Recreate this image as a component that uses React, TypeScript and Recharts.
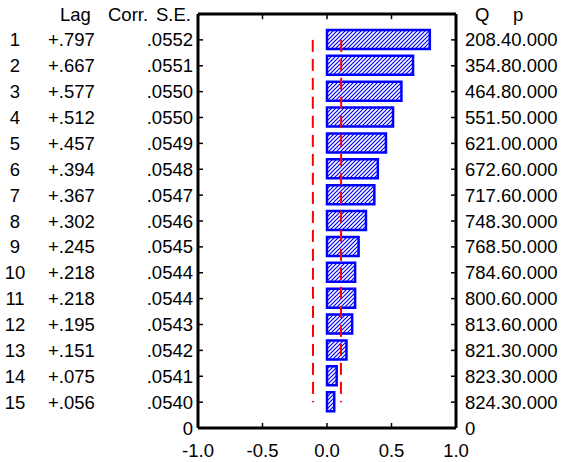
import {
  ComposedChart,
  Bar,
  Line,
  XAxis,
  YAxis,
  ReferenceLine,
} from "recharts";

// autocorrelation table
const lags = [1, 2, 3, 4, 5, 6, 7, 8, 9, 10, 11, 12, 13, 14, 15];
const corrs = [
  0.797, 0.667, 0.577, 0.512, 0.457, 0.394, 0.367, 0.302, 0.245, 0.218, 0.218,
  0.195, 0.151, 0.075, 0.056,
];
const stdErrs = [
  0.0552, 0.0551, 0.055, 0.055, 0.0549, 0.0548, 0.0547, 0.0546, 0.0545, 0.0544,
  0.0544, 0.0543, 0.0542, 0.0541, 0.054,
];
const qStats = [
  208.4, 354.8, 464.8, 551.5, 621.0, 672.6, 717.6, 748.3, 768.5, 784.6, 800.6,
  813.6, 821.3, 823.3, 824.3,
];
const pValues = [0, 0, 0, 0, 0, 0, 0, 0, 0, 0, 0, 0, 0, 0, 0];
const xTicks = [-1, -0.5, 0, 0.5, 1];
const rowTicks = [1, 2, 3, 4, 5, 6, 7, 8, 9, 10, 11, 12, 13, 14, 15, 16];

const rows = lags.map((lag, i) => ({
  lag,
  corr: corrs[i],
  se: stdErrs[i],
  upper: 2 * stdErrs[i],
  lower: -2 * stdErrs[i],
  q: qStats[i],
  p: pValues[i],
}));

const FONT = "'Liberation Sans', Arial, sans-serif";
const FS = 18.5;
const BLUE = "#0000ff";

const noLead = (v: number, d: number) => v.toFixed(d).replace(/^0/, "");

const LeftTick = (props: any) => {
  const { x, y, payload } = props;
  const row = rows.find((r) => r.lag === payload.value);
  const base = y + 6.5;
  if (!row) {
    return (
      <text x={x - 5} y={base} textAnchor="end" fontSize={FS} fill="#000">
        0
      </text>
    );
  }
  return (
    <g fontSize={FS} fill="#000">
      <path d={`M${x},${y}h5`} stroke="#000" strokeWidth={1.5} />
      <text x={x - 183} y={base} textAnchor="middle">
        {row.lag}
      </text>
      <text x={x - 150} y={base}>
        {(row.corr >= 0 ? "+" : "-") + noLead(Math.abs(row.corr), 3)}
      </text>
      <text x={x - 5} y={base} textAnchor="end">
        {noLead(row.se, 4)}
      </text>
    </g>
  );
};

const RightTick = (props: any) => {
  const { x, y, payload } = props;
  const row = rows.find((r) => r.lag === payload.value);
  const base = y + 6.5;
  return (
    <g fontSize={FS} fill="#000">
      {row && <path d={`M${x},${y}h-5`} stroke="#000" strokeWidth={1.5} />}
      <text x={x + 9} y={base}>
        {row ? `${row.q.toFixed(1)}${row.p.toFixed(3)}` : "0"}
      </text>
    </g>
  );
};

const BottomTick = (props: any) => {
  const { x, y, payload } = props;
  const edge = payload.value === -1 || payload.value === 1;
  return (
    <g fontSize={FS} fill="#000">
      {!edge && <path d={`M${x},${y}v-5`} stroke="#000" strokeWidth={1.5} />}
      <text x={x} y={y + 29} textAnchor="middle">
        {payload.value.toFixed(1)}
      </text>
    </g>
  );
};

const innerTicks = xTicks.filter((t) => t !== -1 && t !== 1);

export default function App() {
  return (
    <div
      style={{
        position: "absolute",
        left: 0,
        top: 0,
        width: 562,
        height: 462,
        background: "#fff",
        fontFamily: FONT,
      }}
    >
      <svg
        width={562}
        height={462}
        style={{ position: "absolute", left: 0, top: 0, pointerEvents: "none" }}
      >
        <defs>
          <pattern
            id="acfHatch"
            patternUnits="userSpaceOnUse"
            width={4}
            height={4}
          >
            <rect width={4} height={4} fill="#fff" />
            <path
              d="M-1,1 l2,-2 M0,4 l4,-4 M3,5 l2,-2"
              stroke={BLUE}
              strokeWidth={1.2}
            />
          </pattern>
        </defs>
        <g fontSize={FS} fill="#000" fontFamily={FONT}>
          <text x={60} y={21}>Lag</text>
          <text x={108} y={21}>Corr.</text>
          <text x={191} y={21} textAnchor="end">S.E.</text>
          <text x={475} y={21}>Q</text>
          <text x={513} y={21}>p</text>
        </g>
      </svg>
      <div style={{ position: "absolute", left: 0, top: 0 }}>
        <ComposedChart
          width={562}
          height={462}
          data={rows}
          layout="vertical"
          margin={{ top: 14, right: 0, bottom: 0, left: 0 }}
        >
          <XAxis
            type="number"
            domain={[-1, 1]}
            ticks={xTicks}
            height={34}
            axisLine
            stroke="#000"
            strokeWidth={3}
            tickLine={false}
            tickSize={0}
            tickMargin={0}
            tick={<BottomTick />}
            allowDataOverflow
          />
          <YAxis
            yAxisId="left"
            type="number"
            dataKey="lag"
            domain={[0, 16]}
            ticks={rowTicks}
            width={198}
            axisLine
            stroke="#000"
            strokeWidth={3}
            tickLine={false}
            tickSize={0}
            tickMargin={0}
            tick={<LeftTick />}
            interval={0}
            allowDataOverflow
          />
          <YAxis
            yAxisId="right"
            orientation="right"
            type="number"
            dataKey="lag"
            domain={[0, 16]}
            ticks={rowTicks}
            width={106}
            axisLine
            stroke="#000"
            strokeWidth={3}
            tickLine={false}
            tickSize={0}
            tickMargin={0}
            tick={<RightTick />}
            interval={0}
            allowDataOverflow
          />
          {/* top edge of the frame and its inward ticks */}
          <ReferenceLine yAxisId="left" y={0} stroke="#000" strokeWidth={3} />
          {innerTicks.map((t) => (
            <ReferenceLine
              key={t}
              yAxisId="left"
              segment={[
                { x: t, y: 0 },
                { x: t, y: 0.2 },
              ]}
              stroke="#000"
              strokeWidth={1.5}
            />
          ))}
          <Bar
            yAxisId="left"
            dataKey="corr"
            barSize={19}
            fill="url(#acfHatch)"
            stroke={BLUE}
            strokeWidth={2.5}
            isAnimationActive={false}
          />
          <Line
            yAxisId="left"
            dataKey="upper"
            type="monotone"
            stroke="#ff0000"
            strokeWidth={2}
            strokeDasharray="12 7"
            dot={false}
            isAnimationActive={false}
          />
          <Line
            yAxisId="left"
            dataKey="lower"
            type="monotone"
            stroke="#ff0000"
            strokeWidth={2}
            strokeDasharray="12 7"
            dot={false}
            isAnimationActive={false}
          />
        </ComposedChart>
      </div>
    </div>
  );
}
